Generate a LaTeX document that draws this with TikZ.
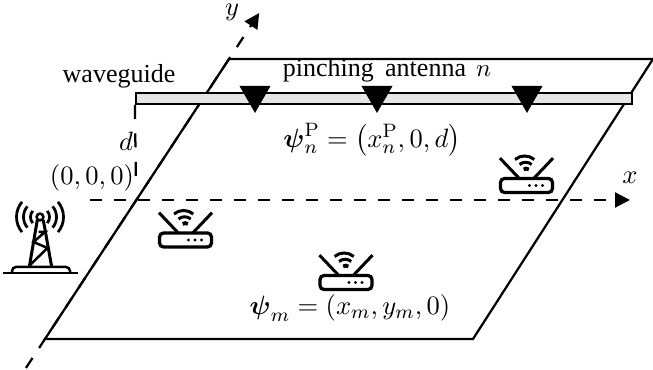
\documentclass[tikz,border=0pt]{standalone}
\usepackage{amsmath,amssymb}
\usepackage[no-math]{fontspec}
\setmainfont{Liberation Serif}
\usepackage{xcolor}
\usetikzlibrary{arrows.meta,positioning,calc}
\newcommand{\Nmath}[1]{\scalebox{0.97}{\fontsize{10.95}{13}\selectfont$#1$}}

\begin{document}
\begin{tikzpicture}[
  x=0.4pt, y=-0.4pt,
  line/.style={line width=0.9pt},
  axis/.style={line width=0.9pt, dash pattern=on 4.8pt off 4.8pt,
               -{Triangle[length=6pt,width=6pt]}},
  guide/.style={draw, line width=0.9pt, fill=black!10, inner sep=0pt,
                minimum width=198.4pt, minimum height=4.2pt},
  label/.style={inner sep=0pt, font=\fontsize{10.4}{13}\selectfont},
  pics/router/.style={code={
    \draw[line width=1.3pt, rounded corners=1.6pt] (-26,-7) rectangle (26,7);
    \draw[line width=1.2pt] (-26.5,-27.3) -- (-7.5,-7.3);
    \draw[line width=1.2pt] (26.5,-27.3) -- (7.5,-7.3);
    \fill (3,0) circle (1.6) (9.5,0) circle (1.6) (16,0) circle (1.6);
    \draw[line width=1.2pt] (-11.5,-26) arc[start angle=-130, end angle=-50, radius=15];
    \draw[line width=1.2pt] (-7,-21) arc[start angle=-130, end angle=-50, radius=9.5];
    \draw[line width=1.5pt] (-2.8,-16) arc[start angle=-130, end angle=-50, radius=4];
  }},
  pics/tower/.style={code={
    \draw[line width=1pt] (-37,56) -- (38,56);
    \draw[line width=1pt, rounded corners=1.6pt] (-28,56) -- (-28,50) -- (30,50) -- (30,56);
    \draw[line width=1.2pt] (-10.7,50) -- (-2.7,3) (11.7,50) -- (3.3,3);
    \draw[line width=1pt] (-1.5,15) -- (5,15) -- (-6.5,25) -- (7.5,31) -- (-10,48);
    \draw[line width=1pt] (0,0) circle (3.4);
    \foreach \r in {9.5,16.5,23.5} {
      \draw[line width=1.1pt] (140:\r) arc[start angle=140, end angle=220, radius=\r];
      \draw[line width=1.1pt] (-40:\r) arc[start angle=-40, end angle=40, radius=\r];
    }
  }}
]
\useasboundingbox (0,0) rectangle (653,370);

% plane corners and axis ends
\coordinate (plTL) at (229,59);
\coordinate (plTR) at (653,59);
\coordinate (plBR) at (473,339);
\coordinate (plBL) at (45,339);
\coordinate (xS) at (90,200);
\coordinate (xE) at (630,200);
\coordinate (yS) at ($(plTL)!1.1036!(plBL)$);
\coordinate (yE) at ($(plBL)!1.164!(plTL)$);
\coordinate (feed) at (136,188);

% plane and axes
\draw[line] (plTL) -- (plTR) -- (plBR) -- (plBL) -- cycle;
\draw[axis] (xS) -- (xE);
\draw[axis] (yS) -- (yE);

% waveguide
\node[guide] (guide) at (384,98.5) {};
\draw[line, dash pattern=on 5.6pt off 5.8pt] (guide.south west) -- (feed);

% pinching antennas
\foreach \x in {255,377,527} {
  \fill (\x-15.5,86) -- (\x+15.5,86) -- (\x,113) -- cycle;
}

% routers and base station
\pic at (185.5,240) {router};
\pic at (526.5,185.5) {router};
\pic at (346,282.5) {router};
\pic at (40,217) {tower};

% labels
\node[label] (lblY)   at (232,12)  {\Nmath{y}};
\node[label] (lblX)   at (630,178) {\Nmath{x}};
\node[label] (lblD)   at (126,141) {\Nmath{d}};
\node[label] (lblO)   at (92,178)  {\Nmath{(0,0,0)}};
\node[label] (lblWg)  at (119,76)  {waveguide};
\node[label] (lblPa)  at (387,70)  {pinching\hspace{4.5pt}antenna\hspace{4pt}$n$};
\node[label] (lblPn)  at (372,140) {\Nmath{\boldsymbol{\psi}_n^{\mathrm{P}}=\bigl(x_n^{\mathrm{P}},0,d\bigr)}};
\node[label] (lblPm)  at (350,308) {\Nmath{\boldsymbol{\psi}_m=(x_m,y_m,0)}};
\end{tikzpicture}
\end{document}
